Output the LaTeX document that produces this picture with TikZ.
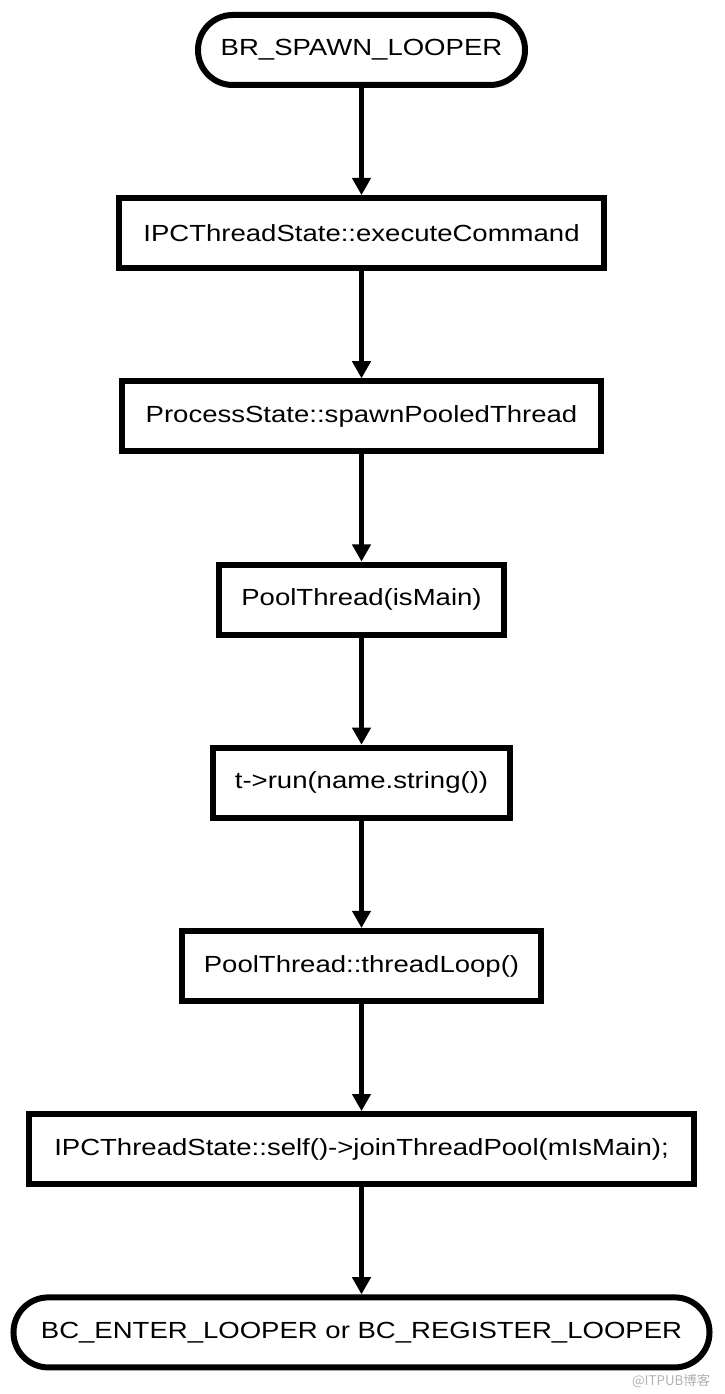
\documentclass[tikz,border=0pt]{standalone}
\usepackage{fontspec}
\setmainfont{Liberation Sans}[FakeStretch=1.18]
\newfontfamily\cjkfont{Noto Sans CJK SC}
\usetikzlibrary{arrows.meta, positioning}

\begin{document}
\begin{tikzpicture}[
    node distance=2.68cm,
    box/.style={rectangle, draw, line width=0.15cm, minimum height=1.75cm, inner sep=0pt, align=center, font=\fontsize{16.6pt}{20pt}\selectfont},
    pill/.style={box, rounded corners=0.87cm},
    arrow/.style={-{Triangle[length=0.43cm, width=0.45cm]}, line width=0.13cm},
]
\useasboundingbox (-9.0375,1.25) rectangle (9.0625,-33.6);

\node[pill, minimum width=8.175cm] (spawn) at (0,0) {BR\_SPAWN\_LOOPER};
\node[box, minimum width=12.1cm, below=of spawn] (execcmd) {IPCThreadState::executeCommand};
\node[box, minimum width=11.975cm, below=of execcmd] (spawnthread) {ProcessState::spawnPooledThread};
\node[box, minimum width=7.1cm, below=of spawnthread] (poolthread) {PoolThread(isMain)};
\node[box, minimum width=7.425cm, below=of poolthread] (run) {t->run(name.string())};
\node[box, minimum width=8.95cm, below=of run] (threadloop) {PoolThread::threadLoop()};
\node[box, minimum width=16.6cm, below=of threadloop] (jointhread) {IPCThreadState::self()->joinThreadPool(mIsMain);};
\node[pill, minimum width=17.4cm, below=of jointhread] (enterloop) {BC\_ENTER\_LOOPER or BC\_REGISTER\_LOOPER};

\draw[arrow] (spawn) -- (execcmd);
\draw[arrow] (execcmd) -- (spawnthread);
\draw[arrow] (spawnthread) -- (poolthread);
\draw[arrow] (poolthread) -- (run);
\draw[arrow] (run) -- (threadloop);
\draw[arrow] (threadloop) -- (jointhread);
\draw[arrow] (jointhread) -- (enterloop);

\node[anchor=east, text=gray!60, font=\cjkfont\fontsize{9.5pt}{11pt}\selectfont] (watermark) at (8.84,-33.275) {@ITPUB博客};

\end{tikzpicture}
\end{document}
